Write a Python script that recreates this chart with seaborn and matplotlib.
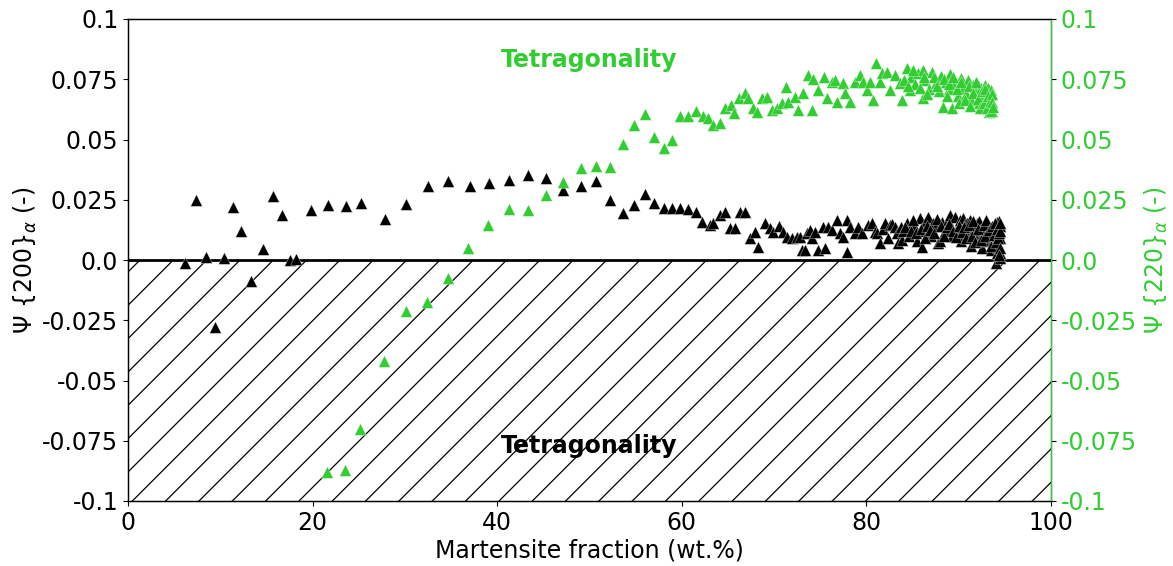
import matplotlib
matplotlib.use("Agg")
import matplotlib.pyplot as plt
import seaborn as sns
import pandas as pd

# ---------------- data ----------------
black_x = [6.2, 7.4, 8.5, 9.4, 10.4, 11.4, 12.2, 13.3, 14.6, 15.7,
           16.7, 17.6, 18.2, 19.8, 21.7, 23.6, 25.2, 27.8, 30.1, 32.5,
           34.7, 37.0, 39.1, 41.3, 43.3, 45.3, 47.1, 49.1, 50.7, 52.2,
           53.6, 54.8, 56.0, 57.0, 58.1, 58.9, 59.8, 60.7, 61.5, 62.2,
           63.1, 63.4, 64.1, 64.7, 65.2, 65.8, 66.3, 66.8, 67.4, 67.9,
           68.3, 69.0, 69.6, 69.9, 70.5, 71.0, 71.4, 71.9, 72.5, 72.8,
           73.0, 73.3, 73.6, 73.9, 74.1, 74.4, 74.8, 75.3, 75.5, 75.8,
           76.3, 76.8, 77.1, 77.5, 77.9, 77.9, 78.2, 78.8, 79.1, 79.5,
           80.2, 80.6, 80.9, 81.1, 81.5, 81.8, 82.0, 82.3, 82.6, 82.8,
           83.1, 83.3, 83.4, 83.7, 83.9, 84.0, 84.4, 84.6, 84.9, 85.2,
           85.5, 85.8, 86.0, 86.2, 86.5, 86.7, 87.0, 87.2, 87.5, 87.8,
           88.0, 88.2, 88.5, 88.8, 89.1, 89.3, 89.6, 89.8, 90.1, 90.3,
           90.5, 90.7, 90.9, 91.0, 91.2, 91.3, 91.5, 91.7, 92.0, 92.0,
           92.2, 92.3, 92.5, 92.6, 92.8, 93.0, 93.1, 93.2, 93.4, 93.5,
           93.6, 93.7, 93.8, 94.0, 94.0, 94.1, 94.1, 94.2, 94.3, 94.3,
           94.4, 94.4, 94.5, 94.5, 94.5, 94.5]
black_y = [-0.0012, 0.025, 0.0012, -0.028, 0.001, 0.022, 0.012, -0.0087, 0.0046, 0.0266,
           0.0187, 0.0, 0.0004, 0.0207, 0.0228, 0.0224, 0.0237, 0.017, 0.0232, 0.0307,
           0.0328, 0.0307, 0.032, 0.0332, 0.0353, 0.034, 0.029, 0.0307, 0.0328, 0.0249,
           0.0195, 0.0228, 0.0274, 0.0237, 0.0216, 0.0216, 0.0216, 0.0212, 0.0200, 0.0158,
           0.0145, 0.0154, 0.0187, 0.0199, 0.0133, 0.0133, 0.0199, 0.0199, 0.0091, 0.0116,
           0.0054, 0.0154, 0.0133, 0.0116, 0.0141, 0.0116, 0.0095, 0.0091, 0.0095, 0.0095,
           0.0041, 0.0041, 0.0112, 0.0124, 0.0091, 0.0116, 0.0041, 0.0137, 0.0050, 0.0137,
           0.0124, 0.0166, 0.0112, 0.0095, 0.0166, 0.0033, 0.0137, 0.0112, 0.0137, 0.0112,
           0.0145, 0.0154, 0.0116, 0.0112, 0.0071, 0.0130, 0.0154, 0.0090, 0.0145, 0.0150,
           0.0137, 0.0110, 0.0071, 0.0135, 0.0083, 0.0120, 0.0154, 0.0100, 0.0145, 0.0140,
           0.0080, 0.0174, 0.0054, 0.0120, 0.0160, 0.0178, 0.0100, 0.0154, 0.0140, 0.0071,
           0.0080, 0.0158, 0.0120, 0.0165, 0.0187, 0.0100, 0.0178, 0.0130, 0.0166, 0.0080,
           0.0174, 0.0150, 0.0154, 0.0110, 0.0166, 0.0060, 0.0137, 0.0130, 0.0154, 0.0090,
           0.0160, 0.0124, 0.0050, 0.0112, 0.0120, 0.0080, 0.0154, 0.0150, 0.0095, 0.0040,
           0.0110, 0.0083, 0.0070, 0.0140, -0.0012, 0.0158, 0.0100, 0.0030, 0.0054, 0.0120,
           0.0060, 0.0160, 0.0029, 0.0090, 0.0010, 0.0140]

# additional points of the dense cluster at high martensite fraction
black_dense_x = [84.2, 84.8, 85.0, 85.4, 85.9, 86.3, 86.6, 86.9, 87.3, 87.6,
                 88.1, 88.4, 88.7, 89.0, 89.4, 89.7, 90.0, 90.4, 90.6, 90.8,
                 91.1, 91.4, 91.6, 91.8, 92.1, 92.4, 92.7, 92.9, 93.0, 93.3,
                 93.5, 93.6, 93.8, 93.9, 94.0, 94.2, 94.3, 94.4, 94.5, 94.5,
                 94.5, 94.4]
black_dense_y = [0.0135, 0.0120, 0.0165, 0.0110, 0.0130, 0.0090, 0.0140, 0.0125, 0.0110, 0.0170,
                 0.0140, 0.0100, 0.0135, 0.0150, 0.0120, 0.0095, 0.0140, 0.0115, 0.0135, 0.0090,
                 0.0145, 0.0100, 0.0160, 0.0075, 0.0130, 0.0085, 0.0145, 0.0100, 0.0165, 0.0125,
                 0.0060, 0.0140, 0.0105, 0.0155, 0.0075, 0.0130, 0.0090, 0.0110, 0.0050, 0.0120,
                 0.0155, 0.0020]

green_x = [21.6, 23.5, 25.1, 27.7, 30.1, 32.4, 34.7, 36.8, 39.0, 41.3,
           43.3, 45.3, 47.1, 49.1, 50.7, 52.2, 53.6, 54.8, 56.0, 57.0,
           58.1, 58.9, 59.8, 60.7, 61.5, 62.3, 62.8, 63.4, 64.1, 64.7,
           65.3, 65.7, 66.2, 66.8, 67.2, 67.7, 68.1, 68.7, 69.2, 69.8,
           70.3, 70.9, 71.3, 71.5, 72.3, 72.6, 73.1, 73.7, 74.1, 74.2,
           74.8, 75.4, 75.7, 76.3, 76.6, 76.8, 77.5, 77.7, 78.2, 78.8,
           79.3, 79.6, 80.1, 80.4, 80.7, 81.0, 81.5, 81.7, 82.2, 82.6,
           83.1, 83.6, 83.9, 84.4, 84.7, 84.8, 85.3, 85.6, 86.1, 86.1,
           86.4, 86.8, 87.1, 87.5, 87.9, 88.1, 88.3, 88.6, 88.9, 89.1,
           89.3, 89.6, 89.9, 90.2, 90.5, 90.8, 91.0, 91.3, 91.5, 91.8,
           92.0, 92.2, 92.4, 92.6, 92.8, 92.9, 93.0, 93.1, 93.2, 93.3,
           93.4, 93.5, 93.5, 93.6]
green_y = [-0.088, -0.087, -0.070, -0.042, -0.021, -0.0175, -0.0075, 0.005, 0.0145, 0.021,
           0.0207, 0.027, 0.0324, 0.038, 0.039, 0.0386, 0.048, 0.056, 0.0606, 0.051,
           0.0465, 0.050, 0.0598, 0.0598, 0.0618, 0.0598, 0.0589, 0.056, 0.0568, 0.0631,
           0.0643, 0.061, 0.0672, 0.0693, 0.0672, 0.0631, 0.0614, 0.0672, 0.0676, 0.0622,
           0.0631, 0.0651, 0.0718, 0.0656, 0.0676, 0.0622, 0.0693, 0.0768, 0.0622, 0.0751,
           0.0705, 0.0759, 0.0672, 0.0739, 0.0747, 0.0656, 0.0734, 0.0693, 0.0656, 0.0739,
           0.0768, 0.0739, 0.0705, 0.0739, 0.0664, 0.0817, 0.0739, 0.0776, 0.078, 0.0705,
           0.0768, 0.0734, 0.0664, 0.0797, 0.0705, 0.0760, 0.0730, 0.0775, 0.0788, 0.0672,
           0.0745, 0.0710, 0.0780, 0.0735, 0.0700, 0.0765, 0.0635, 0.0740, 0.0710, 0.0770,
           0.0631, 0.0735, 0.0680, 0.0755, 0.0715, 0.0690, 0.0745, 0.0665, 0.0725, 0.0700,
           0.0735, 0.0650, 0.0715, 0.0680, 0.0725, 0.0630, 0.0700, 0.0660, 0.0715, 0.0615,
           0.0690, 0.0645, 0.0705, 0.0620]

green_dense_x = [84.1, 84.5, 85.0, 85.8, 86.2, 86.6, 87.3, 87.7, 88.4, 88.7,
                 89.0, 89.4, 89.8, 90.0, 90.3, 90.7, 91.1, 91.2, 91.6, 91.9,
                 92.1, 92.3, 92.5, 92.7, 92.9, 93.1, 93.2, 93.4, 93.5, 93.6,
                 93.6, 93.7]
green_dense_y = [0.0745, 0.0720, 0.0790, 0.0715, 0.0760, 0.0690, 0.0760, 0.0720, 0.0750, 0.0680,
                 0.0730, 0.0760, 0.0710, 0.0650, 0.0740, 0.0665, 0.0720, 0.0640, 0.0695, 0.0740,
                 0.0670, 0.0630, 0.0700, 0.0650, 0.0710, 0.0630, 0.0680, 0.0660, 0.0620, 0.0690,
                 0.0655, 0.0635]

x_ticks = [0, 20, 40, 60, 80, 100]
y_ticks = [-0.1, -0.075, -0.05, -0.025, 0.0, 0.025, 0.05, 0.075, 0.1]
y_ticklabels = ["-0.1", "-0.075", "-0.05", "-0.025", "0.0", "0.025", "0.05", "0.075", "0.1"]

GREEN = "#32CD32"
FS = 8.5

plt.rcParams["hatch.linewidth"] = 0.45
plt.rcParams["font.family"] = ["DejaVu Sans"]

df_b = pd.DataFrame({"x": black_x + black_dense_x, "y": black_y + black_dense_y})
df_g = pd.DataFrame({"x": green_x + green_dense_x, "y": green_y + green_dense_y})

fig, ax = plt.subplots(figsize=(1173 / 200, 566 / 200), dpi=200)
fig.subplots_adjust(left=128 / 1173, right=1051 / 1173, bottom=(566 - 501) / 566,
                    top=(566 - 19) / 566)

# hatched negative region
ax.fill_between([0, 100], [-0.1, -0.1], [0, 0], facecolor="none", edgecolor="black",
                hatch="//", linewidth=0)
ax.axhline(0, color="black", lw=1.0, zorder=3)

sns.scatterplot(data=df_b, x="x", y="y", ax=ax, marker="^", color="black", s=18,
                edgecolor="white", linewidth=0.12, zorder=4, legend=False)

ax.set_xlim(0, 100)
ax.set_ylim(-0.1, 0.1)
ax.set_xticks(x_ticks)
ax.set_xticklabels([str(t) for t in x_ticks])
ax.set_yticks(y_ticks)
ax.set_yticklabels(y_ticklabels)
ax.set_xlabel("Martensite fraction (wt.%)", fontsize=FS, labelpad=1.5)
ax.set_ylabel("Ψ {200}$_{\\alpha}$ (-)", fontsize=FS, labelpad=1.2)
ax.tick_params(labelsize=FS, length=1.75, width=0.4, pad=1.75)
for sp in ax.spines.values():
    sp.set_linewidth(0.45)

ax.text(40.4, -0.08, "Tetragonality", fontsize=FS, fontweight="bold", color="black",
        ha="left", va="baseline")

ax2 = ax.twinx()
sns.scatterplot(data=df_g, x="x", y="y", ax=ax2, marker="^", color=GREEN, s=18,
                edgecolor="white", linewidth=0.12, zorder=4, legend=False)
ax2.set_ylim(-0.1, 0.1)
ax2.set_yticks(y_ticks)
ax2.set_yticklabels(y_ticklabels)
ax2.set_ylabel("Ψ {220}$_{\\alpha}$ (-)", fontsize=FS, color=GREEN, labelpad=2)
ax2.tick_params(axis="y", labelsize=FS, length=1.75, width=0.4, pad=1.75,
                labelcolor=GREEN, color="black")
for sp in ax2.spines.values():
    sp.set_linewidth(0.45)
ax2.spines["right"].set_color(GREEN)
ax2.text(40.4, 0.08, "Tetragonality", fontsize=FS, fontweight="bold", color=GREEN,
         ha="left", va="baseline")

fig.savefig("out.png", dpi=200)
